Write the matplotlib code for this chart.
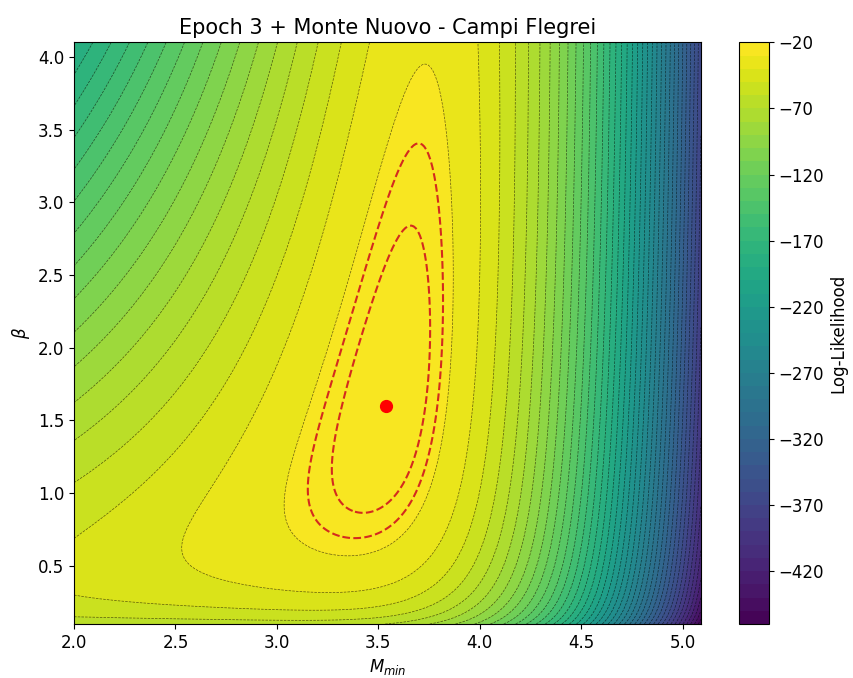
import numpy as np
import matplotlib
matplotlib.use("Agg")
import matplotlib.pyplot as plt

# Eruption magnitudes used in the fit (Epoch 3 + Monte Nuovo), sorted
magnitudes = [3.30, 3.52, 3.52, 3.54, 3.54, 3.67, 3.69, 3.76, 3.80, 3.81,
              3.85, 3.86, 3.96, 3.97, 3.99, 4.12, 4.18, 4.21,
              4.28, 4.30, 4.57, 4.69, 4.70, 4.97, 5.18, 5.46, 6.00]
sigma_mag = 0.2225  # magnitude uncertainty

# Parameter grid
mmin_lim = (2.0, 5.09)
beta_lim = (0.1, 4.1)
n_grid = 300

title = "Epoch 3 + Monte Nuovo - Campi Flegrei"
conf_drop = [5.7, 3.2]  # drop from max log-likelihood for the dashed red contours


def log_norm_cdf(x):
    # log of standard normal cdf, erfc approximation (Numerical Recipes erfcc)
    z = np.abs(x) / np.sqrt(2.0)
    t = 1.0 / (1.0 + 0.5 * z)
    poly = (-z * z - 1.26551223 + t * (1.00002368 + t * (0.37409196 + t * (0.09678418 +
            t * (-0.18628806 + t * (0.27886807 + t * (-1.13520398 + t * (1.48851587 +
            t * (-0.82215223 + t * 0.17087277)))))))))
    log_erfc = np.log(t) + poly
    return np.where(x < 0, np.log(0.5) + log_erfc, np.log1p(-0.5 * np.exp(log_erfc)))


# Gutenberg-Richter (exponential above Mmin) convolved with Gaussian magnitude error
mmin = np.linspace(mmin_lim[0], mmin_lim[1], n_grid)
beta = np.linspace(beta_lim[0], beta_lim[1], n_grid)
M, B = np.meshgrid(mmin, beta)
m = np.array(magnitudes)[:, None, None]
s = sigma_mag
x = (m - M) / s - B * s
ll = np.sum(np.log(B) + 0.5 * (B * s) ** 2 - B * (m - M) + log_norm_cdf(x), axis=0)

# best fit
i_best = np.unravel_index(np.argmax(ll), ll.shape)
m_best, b_best = M[i_best], B[i_best]
ll_max = ll.max()

levels = np.arange(np.floor(ll.min() / 10) * 10, np.ceil(ll_max / 10) * 10 + 1, 10)

fig = plt.figure(figsize=(8.54, 6.78), dpi=100)
ax = fig.add_axes([0.0867, 0.0796, 0.734, 0.858])
cax = fig.add_axes([0.865, 0.0796, 0.0351, 0.858])

cf = ax.contourf(M, B, ll, levels=levels, cmap="viridis")
ax.contour(M, B, ll, levels=levels, colors="k", linewidths=0.5, alpha=0.6)
ax.contour(M, B, ll, levels=[ll_max - d for d in conf_drop], colors="#d42a1e",
           linestyles="--", linewidths=1.5)
ax.plot(m_best, b_best, "o", color="red", markersize=8.5)

ax.set_xlabel("$M_{min}$", fontsize=12)
ax.set_ylabel(r"$\beta$", fontsize=12)
ax.set_title(title, fontsize=15)
ax.tick_params(labelsize=12)

cbar = fig.colorbar(cf, cax=cax)
cbar.set_ticks(np.arange(levels[-1], levels[0] - 1, -50))
cbar.ax.tick_params(labelsize=12)
cbar.set_label("Log-Likelihood", fontsize=12)

fig.savefig("out.png", dpi=100)
